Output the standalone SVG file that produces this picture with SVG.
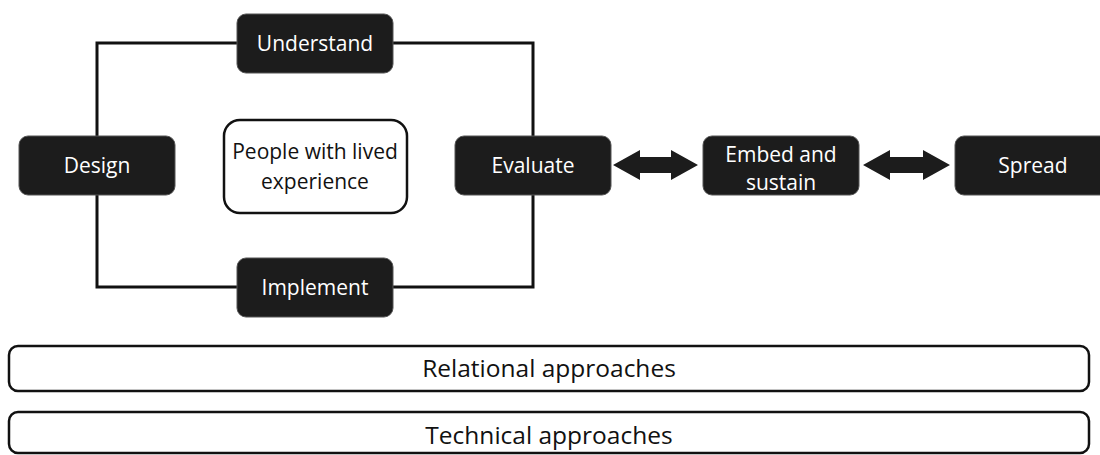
<svg xmlns="http://www.w3.org/2000/svg" width="1100" height="455" viewBox="0 0 1100 455">
<style>
.dark rect{fill:#1c1c1c;stroke:#555;stroke-width:1}
.dark text{fill:#fff;font-family:"Open Sans","DejaVu Sans",sans-serif;font-size:21px;text-anchor:middle}
.light rect{fill:#fff;stroke:#111;stroke-width:2.5}
.light text{fill:#111;font-family:"Open Sans","DejaVu Sans",sans-serif;font-size:21px;text-anchor:middle}
.band text{font-size:24.5px}
.loop{fill:none;stroke:#111;stroke-width:3}
.dbl{fill:#1c1c1c}
</style>
<rect width="1100" height="455" fill="#fff"/>
<g id="connectors">
<rect class="loop" x="97" y="43" width="436" height="244"/>
<polygon class="dbl" points="613,165 640,150 640,157 671,157 671,150 698,165 671,180 671,173 640,173 640,180"/>
<polygon class="dbl" points="863,165 890,150 890,157 923,157 923,150 950,165 923,180 923,173 890,173 890,180"/>
</g>
<g id="understand" class="dark"><rect x="237" y="14" width="156" height="59" rx="9"/><text x="315" y="51">Understand</text></g>
<g id="design" class="dark"><rect x="19" y="136" width="156" height="59" rx="9"/><text x="97" y="173">Design</text></g>
<g id="evaluate" class="dark"><rect x="455" y="136" width="156" height="59" rx="9"/><text x="533" y="173">Evaluate</text></g>
<g id="implement" class="dark"><rect x="237" y="258" width="156" height="59" rx="9"/><text x="315" y="295">Implement</text></g>
<g id="embed" class="dark"><rect x="703" y="136" width="156" height="59" rx="9"/><text x="781" y="162">Embed and</text><text x="781" y="190">sustain</text></g>
<g id="spread" class="dark"><rect x="955" y="136" width="156" height="59" rx="9"/><text x="1033" y="173">Spread</text></g>
<g id="people" class="light"><rect x="224" y="120" width="183" height="93" rx="16"/><text x="315" y="159">People with lived</text><text x="315" y="189">experience</text></g>
<g id="relational" class="light band"><rect x="9" y="346" width="1080" height="45" rx="9"/><text x="549" y="377">Relational approaches</text></g>
<g id="technical" class="light band"><rect x="9" y="412" width="1080" height="41" rx="9"/><text x="549" y="444">Technical approaches</text></g>
</svg>
